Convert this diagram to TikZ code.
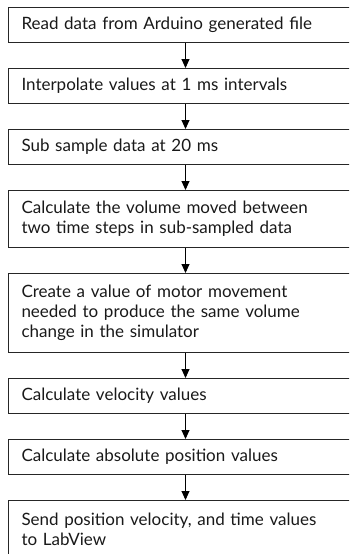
\documentclass[tikz,border=0pt]{standalone}
\usepackage{fontspec}
\setmainfont{Lato}
\usetikzlibrary{arrows.meta}
\begin{document}
\begin{tikzpicture}[x=1pt,y=1pt,
  stepbox/.style={draw=black!85, line width=1pt, anchor=north west,
    minimum width=354pt, text width=328pt, inner xsep=13pt, inner ysep=0pt,
    align=left, text=black!90, font=\fontsize{17}{20}\selectfont},
  flow/.style={draw=black, line width=0.9pt, -{Triangle[length=9pt,width=8pt]}}]
\useasboundingbox (0,0) rectangle (349,-554);
\clip (0,0) rectangle (349,-554);
\node[stepbox, minimum height=35pt] (b1) at (8,-7) {Read data from Arduino generated file};
\node[stepbox, minimum height=35pt] (b2) at (8,-68) {Interpolate values at 1 ms intervals};
\node[stepbox, minimum height=35pt] (b3) at (8,-129) {Sub sample data at 20 ms};
\node[stepbox, minimum height=57pt] (b4) at (8,-190) {Calculate the volume moved between\\two time steps in sub-sampled data};
\node[stepbox, minimum height=79pt] (b5) at (8,-273) {Create a value of motor movement\\needed to produce the same volume\\change in the simulator};
\node[stepbox, minimum height=35pt] (b6) at (8,-378) {Calculate velocity values};
\node[stepbox, minimum height=35pt] (b7) at (8,-439) {Calculate absolute position values};
\node[stepbox, minimum height=57pt] (b8) at (8,-500) {Send position velocity, and time values\\to LabView};
\draw[flow] (b1.south) -- (b2.north);
\draw[flow] (b2.south) -- (b3.north);
\draw[flow] (b3.south) -- (b4.north);
\draw[flow] (b4.south) -- (b5.north);
\draw[flow] (b5.south) -- (b6.north);
\draw[flow] (b6.south) -- (b7.north);
\draw[flow] (b7.south) -- (b8.north);
\end{tikzpicture}
\end{document}
